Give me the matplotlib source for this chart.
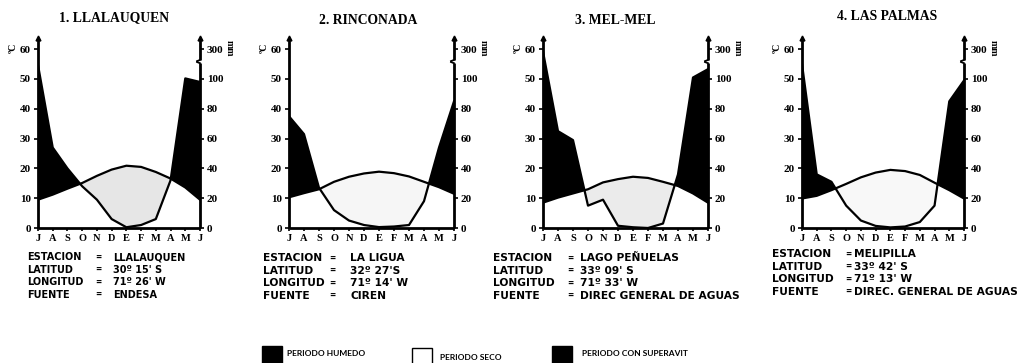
import matplotlib
matplotlib.use("Agg")
import matplotlib.pyplot as plt
from matplotlib.patches import Rectangle
import numpy as np

# ---------------- data ----------------
months = ['J', 'A', 'S', 'O', 'N', 'D', 'E', 'F', 'M', 'A', 'M', 'J']

titles = ['1. LLALAUQUEN', '2. RINCONADA', '3. MEL-MEL', '4. LAS PALMAS']

temp1 = [9.5, 11.2, 13.2, 15.1, 17.5, 19.6, 20.9, 20.5, 18.8, 16.6, 13.6, 9.5]
prec1 = [194, 54, 40, 28, 19, 6, 0.5, 2, 6, 32, 104, 98]

temp2 = [10.3, 11.7, 13.0, 15.5, 17.2, 18.3, 18.9, 18.4, 17.3, 15.5, 13.7, 11.5]
prec2 = [75, 63, 27, 12, 5, 2, 0.6, 1, 2, 18, 54, 85]

temp3 = [8.5, 10.2, 11.6, 13.0, 15.3, 16.4, 17.2, 16.8, 15.5, 14.1, 11.6, 8.5]
prec3 = [284, 65, 59, 15, 19, 1.5, 0.5, 0, 3, 36, 110, 166]

temp4 = [9.9, 10.8, 12.7, 14.8, 17.0, 18.6, 19.5, 19.1, 17.8, 15.2, 12.7, 9.9]
prec4 = [200, 36, 31, 15, 5, 1.4, 0.4, 1, 4, 15, 85, 99]

temp_ticks = [0, 10, 20, 30, 40, 50, 60]
prec_tick_labels = ['0', '20', '40', '60', '80', '100', '300']

info_keys = ['ESTACION', 'LATITUD', 'LONGITUD', 'FUENTE']
info1 = ['LLALAUQUEN', '30º 15\' S', '71º 26\' W', 'ENDESA']
info2 = ['LA LIGUA', '32º 27\'S', '71º 14\' W', 'CIREN']
info3 = ['LAGO PEÑUELAS', '33º 09\' S', '71º 33\' W', 'DIREC GENERAL DE AGUAS']
info4 = ['MELIPILLA', '33º 42\' S', '71º 13\' W', 'DIREC. GENERAL DE AGUAS']

legend_labels = ['PERIODO HUMEDO', 'PERIODO SECO', 'PERIODO CON SUPERAVIT']

# ---------------- layout ----------------
W, H = 1021, 363
fig = plt.figure(figsize=(W / 100, H / 100), dpi=100)

SERIF = 'Liberation Serif'
SANS = 'DejaVu Sans'

panel_x = [(38, 200), (289, 454), (543, 708), (802, 964)]
title_xy = [(114, 18), (368, 20), (615, 20), (887, 17)]
y0_px = 228
px_per_unit = 2.98
ytop = 64
dry_colors = ['#e6e6e6', '#f6f6f6', '#ebebeb', '#f8f8f8']
# key x, '=' centre x, value x, first line y, font size
info_pos = [(27, 98, 113, 257, 7.0), (263, 332, 350, 258, 7.7),
            (493, 570, 580, 258, 7.7), (772, 848, 854, 254, 7.7)]

temps = [temp1, temp2, temp3, temp4]
precs = [prec1, prec2, prec3, prec4]
infos = [info1, info2, info3, info4]


def prec_to_scale(p):
    p = np.asarray(p, dtype=float)
    return np.where(p <= 100, p / 2.0, 50 + (p - 100) / 20.0)


def ftext(x, y, s, **kw):
    fig.text(x / W, 1 - y / H, s, **kw)


for i in range(4):
    x0, x1 = panel_x[i]
    height_px = ytop * px_per_unit
    ax = fig.add_axes([x0 / W, (H - y0_px) / H, (x1 - x0) / W, height_px / H])
    ax.set_xlim(0, 11)
    ax.set_ylim(0, ytop)
    for s in ax.spines.values():
        s.set_visible(False)

    x = np.arange(12)
    t = np.asarray(temps[i], dtype=float)
    p = prec_to_scale(precs[i])

    ax.fill_between(x, t, p, where=p >= t, interpolate=True, color='black', lw=0)
    ax.fill_between(x, t, p, where=p < t, interpolate=True, color=dry_colors[i], lw=0)
    ax.plot(x, t, color='black', lw=1.6)
    ax.plot(x, p, color='black', lw=1.6)

    # axis lines
    kw = dict(color='black', lw=2.0, clip_on=False, solid_capstyle='butt')
    ax.plot([0, 0], [0, 63], **kw)
    ax.plot([0, 11], [0, 0], **kw)
    ax.plot([11, 11], [0, 55.3], **kw)
    ax.plot([11, 11], [56.4, 63], **kw)
    # break hooks on the right axis
    ax.plot([11, 10.8], [55.3, 55.7], color='black', lw=1.3, clip_on=False)
    ax.plot([11, 10.8], [56.4, 56.0], color='black', lw=1.3, clip_on=False)
    ax.plot([0, 11], [63.6, 63.6], ls='none', marker='^', ms=3.5, color='black', clip_on=False)

    ax.set_yticks(temp_ticks)
    ax.set_yticklabels([str(v) for v in temp_ticks], fontfamily=SERIF, fontweight='bold', fontsize=8)
    ax.set_xticks(x)
    ax.set_xticklabels(months, fontfamily=SERIF, fontweight='bold', fontsize=7.5)
    ax.tick_params(axis='y', length=3, width=1.2, pad=2)
    ax.tick_params(axis='x', length=2.5, width=1.2, pad=1.5)

    tw = ax.twinx()
    tw.set_ylim(0, ytop)
    for s in tw.spines.values():
        s.set_visible(False)
    tw.set_yticks(temp_ticks)
    tw.set_yticklabels(prec_tick_labels, fontfamily=SERIF, fontweight='bold', fontsize=8)
    tw.tick_params(axis='y', length=3, width=1.2, pad=2)

    # unit labels
    ftext(x0 - 25, 48, 'ºC', rotation=90, ha='center', va='center',
          fontfamily=SERIF, fontweight='bold', fontsize=7)
    ftext(x1 + 29, 48, 'mm', rotation=270, ha='center', va='center',
          fontfamily=SERIF, fontweight='bold', fontsize=7)

    # title
    tx, ty = title_xy[i]
    ftext(tx, ty, titles[i], ha='center', va='center',
          fontfamily=SERIF, fontweight='bold', fontsize=9.8)

    # station info
    kx, ex, vx, ys, fs = info_pos[i]
    for j in range(4):
        yy = ys + j * 12.6
        ftext(kx, yy, info_keys[j], ha='left', va='center', fontfamily=SANS,
              fontweight='bold', fontsize=fs)
        ftext(ex, yy, '=', ha='center', va='center', fontfamily=SANS,
              fontweight='bold', fontsize=5.5)
        ftext(vx, yy, infos[i][j], ha='left', va='center', fontfamily=SANS,
              fontweight='bold', fontsize=fs)

# ---------------- legend ----------------
boxes = [(262, 346, 'black'), (412, 348, 'white'), (552, 346, 'black')]
text_pos = [(287, 353), (440, 358), (582, 353)]
for (bx, by, col), (tx, ty), lab in zip(boxes, text_pos, legend_labels):
    r = Rectangle((bx / W, 1 - (by + 17) / H), 20 / W, 17 / H, transform=fig.transFigure,
                  facecolor=col, edgecolor='black', lw=1.0)
    fig.patches.append(r)
    ftext(tx, ty, lab, ha='left', va='center', fontfamily='Lato', fontweight='bold', fontsize=6.0)

fig.savefig('out.png', dpi=100)
